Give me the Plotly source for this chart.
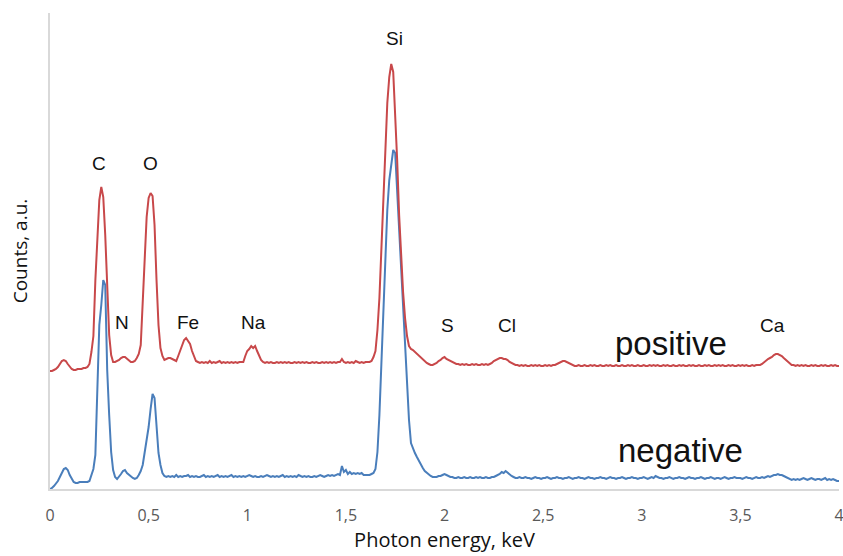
import numpy as np
import plotly.graph_objects as go

# Photon energy grid, keV (0.01 keV steps)
energy = np.round(np.arange(0, 4.005, 0.01), 2)

# Counts (a.u.), one row per 0.1 keV
positive = [
    118,118,119,120,122,125,128,129,128,125,
    122,120,119,119,120,120,120,121,121,122,
    125,137,153,209,254,289,302,292,254,204,
    154,134,127,127,128,129,131,132,132,130,
    128,127,127,128,131,135,144,189,239,272,
    291,296,293,264,209,164,141,133,129,130,
    131,131,130,129,128,133,139,145,149,151,
    148,145,138,132,128,127,126,127,126,127,
    126,128,126,127,126,127,128,126,127,126,
    127,126,127,126,127,126,127,127,127,133,
    138,140,143,141,143,138,133,129,127,126,
    127,126,127,126,126,127,126,127,126,127,
    126,127,126,126,127,126,127,126,127,126,
    127,126,126,127,126,127,126,126,127,126,
    127,126,127,126,127,126,127,127,130,127,
    126,127,126,127,126,128,127,126,127,126,
    127,127,127,128,132,138,159,191,241,299,
    337,386,412,425,417,379,329,274,231,197,
    171,153,143,140,139,137,135,133,131,129,
    128,126,125,124,124,125,126,128,129,131,
    132,130,129,128,127,126,125,125,124,125,
    124,125,124,124,125,124,125,124,124,125,
    124,125,124,125,126,128,129,130,131,131,
    130,130,129,127,126,125,124,124,123,124,
    123,124,123,123,124,123,124,123,124,123,
    123,124,123,124,123,124,124,125,126,127,
    128,128,127,126,125,124,123,123,124,123,
    123,124,123,123,124,123,124,123,123,124,
    123,123,124,123,124,123,123,124,123,123,
    124,123,123,124,123,124,123,123,124,123,
    123,124,123,123,124,123,124,123,124,123,
    123,124,123,124,123,123,124,123,123,124,
    123,124,123,123,124,123,124,123,123,124,
    123,123,124,123,124,123,123,124,123,124,
    123,124,123,123,124,123,124,123,123,124,
    123,124,123,124,123,123,124,123,124,124,
    124,125,127,129,130,131,132,134,135,135,
    134,133,131,129,127,125,124,124,123,124,
    123,124,123,124,123,123,124,123,124,123,
    123,124,123,124,123,123,124,123,124,123,
    123,
]

negative = [
    0,1,3,5,8,12,17,20,21,19,
    14,10,7,6,6,7,7,7,7,7,
    8,13,20,34,89,164,184,209,204,119,
    74,37,19,12,10,12,15,18,19,16,
    14,12,11,10,11,14,18,24,36,46,
    62,80,95,91,62,36,24,16,13,12,
    13,12,13,12,14,12,13,12,13,13,
    14,12,13,12,13,12,12,13,14,12,
    13,12,13,12,13,14,12,13,12,13,
    12,13,14,12,13,12,13,12,13,12,
    13,14,13,12,13,12,12,13,12,13,
    14,13,12,13,12,13,12,13,14,12,
    13,12,13,12,13,12,14,13,12,13,
    12,13,12,12,13,12,13,14,13,12,
    13,14,13,14,13,14,15,14,23,17,
    19,15,17,15,16,15,16,15,16,14,
    14,14,14,15,16,20,37,74,127,184,
    234,279,309,327,339,336,299,254,217,179,
    151,114,69,46,40,36,32,28,24,21,
    18,16,14,13,12,12,12,13,13,14,
    15,14,13,12,12,11,11,12,11,11,
    12,11,11,12,11,11,12,11,12,11,
    11,12,11,11,12,12,13,14,15,17,
    16,18,16,15,13,12,11,11,12,11,
    11,12,11,11,10,11,12,11,11,10,
    11,11,12,11,10,11,11,12,11,11,
    10,11,11,12,11,10,11,11,12,11,
    11,10,11,12,11,11,10,11,11,12,
    11,11,10,11,12,11,11,10,11,11,
    12,11,10,11,11,12,11,11,10,11,
    11,12,11,10,11,12,11,13,12,11,
    11,10,11,11,12,11,10,11,11,12,
    11,11,10,11,12,11,11,10,11,11,
    12,11,10,11,11,12,11,10,11,11,
    10,11,12,11,10,11,11,12,11,11,
    11,10,11,12,11,11,10,11,12,11,
    11,12,11,12,13,12,13,14,14,15,
    14,14,13,12,11,10,9,10,9,10,
    9,10,11,10,9,10,11,10,9,10,
    10,9,10,11,9,10,9,10,9,8,
    8,
]

tick_vals = [0, 0.5, 1, 1.5, 2, 2.5, 3, 3.5, 4]
tick_text = ["0", "0,5", "1", "1,5", "2", "2,5", "3", "3,5", "4"]

# Element labels: (text, energy keV, height a.u.)
element_labels = ["C", "O", "N", "Fe", "Na", "Si", "S", "Cl", "Ca"]
element_x = [0.248, 0.507, 0.365, 0.70, 1.033, 1.748, 2.017, 2.317, 3.665]
element_y = [326, 326, 167, 167, 167, 450.6, 164, 164, 164]

series_labels = ["positive", "negative"]
series_label_x = [3.148, 3.195]
series_label_y = [145.5, 38.8]

fig = go.Figure()
fig.add_trace(go.Scatter(x=energy, y=negative, mode="lines", name="negative",
                         line=dict(color="#4A7EBB", width=2)))
fig.add_trace(go.Scatter(x=energy, y=positive, mode="lines", name="positive",
                         line=dict(color="#C8484A", width=2)))

for t, x, y in zip(element_labels, element_x, element_y):
    fig.add_annotation(x=x, y=y, text=t, showarrow=False, xanchor="center", yanchor="middle",
                       font=dict(family="Liberation Sans, Arial", size=19, color="#111111"))
for t, x, y in zip(series_labels, series_label_x, series_label_y):
    fig.add_annotation(x=x, y=y, text=t, showarrow=False, xanchor="center", yanchor="middle",
                       font=dict(family="Liberation Sans, Arial", size=33, color="#111111"))

fig.update_layout(
    width=843, height=556,
    margin=dict(l=50, r=4, t=13, b=67),
    paper_bgcolor="white", plot_bgcolor="white",
    showlegend=False,
    xaxis=dict(range=[0, 4], tickvals=tick_vals, ticktext=tick_text, automargin=False,
               showgrid=False, zeroline=False, showline=True, linecolor="#D9D9D9", linewidth=1.5,
               ticks="", ticklabelstandoff=11, ticklabeloverflow="allow",
               tickfont=dict(family="Open Sans", size=16, color="#595959"),
               title=dict(text="Photon energy, keV", standoff=6,
                          font=dict(family="Open Sans", size=20, color="#111111"))),
    yaxis=dict(range=[0, 476], showticklabels=False, showgrid=False, zeroline=False,
               automargin=False,
               showline=True, linecolor="#D9D9D9", linewidth=1.5, ticks="",
               title=dict(text="Counts, a.u.", standoff=16,
                          font=dict(family="Open Sans", size=19, color="#111111"))),
)

fig.write_html("out.html", config={"displayModeBar": False},
               post_script="document.body.style.margin='0';")
